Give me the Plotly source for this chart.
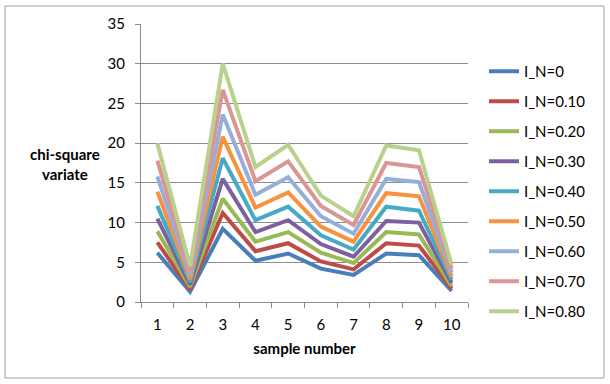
import plotly.graph_objects as go

# sample numbers on the x axis
samples = ["1", "2", "3", "4", "5", "6", "7", "8", "9", "10"]

# chi-square variate per sample, one list per I_N level
in_0 = [6.2, 1.3, 9.2, 5.2, 6.1, 4.2, 3.4, 6.1, 5.9, 1.4]
in_010 = [7.5, 1.6, 11.2, 6.4, 7.4, 5.1, 4.1, 7.4, 7.1, 1.7]
in_020 = [8.9, 1.9, 13.0, 7.6, 8.8, 6.2, 4.9, 8.8, 8.5, 2.0]
in_030 = [10.5, 2.2, 15.5, 8.8, 10.3, 7.3, 5.7, 10.2, 10.0, 2.4]
in_040 = [12.1, 2.5, 18.1, 10.3, 12.0, 8.4, 6.6, 12.0, 11.5, 2.8]
in_050 = [13.9, 2.9, 20.8, 11.9, 13.8, 9.5, 7.6, 13.7, 13.3, 3.2]
in_060 = [15.8, 3.4, 23.6, 13.5, 15.7, 10.8, 8.6, 15.5, 15.1, 3.7]
in_070 = [17.8, 3.9, 26.7, 15.2, 17.7, 12.1, 9.7, 17.5, 17.0, 4.2]
in_080 = [20.0, 4.5, 30.0, 17.0, 19.8, 13.4, 10.8, 19.7, 19.1, 4.7]

series = [
    ("I_N=0", in_0, "#4A7EBB"),
    ("I_N=0.10", in_010, "#BE4B48"),
    ("I_N=0.20", in_020, "#98B954"),
    ("I_N=0.30", in_030, "#7D60A0"),
    ("I_N=0.40", in_040, "#46AAC5"),
    ("I_N=0.50", in_050, "#F69240"),
    ("I_N=0.60", in_060, "#95AEDA"),
    ("I_N=0.70", in_070, "#D99694"),
    ("I_N=0.80", in_080, "#B9D18D"),
]

FONT = "Lato, Carlito, Calibri, sans-serif"
GRID = "#8C8C8C"

fig = go.Figure()
for name, vals, color in series:
    fig.add_trace(
        go.Scatter(
            x=samples,
            y=vals,
            mode="lines",
            name=name,
            legendgroup=name,
            line=dict(color=color, width=4),
        )
    )

# plot area in pixels: x 141..468, y 24..302
L, R, T, B = 141, 468, 24, 302
W, H = 610, 384
pw, ph = R - L, B - T


def px(x):
    return (x - L) / pw


def py(y):
    return (B - y) / ph


fig.update_layout(
    width=W,
    height=H,
    margin=dict(l=L, r=W - R, t=T, b=H - B),
    paper_bgcolor="white",
    plot_bgcolor="white",
    font=dict(family=FONT, size=15, color="#000000"),
    legend=dict(
        x=px(484),
        y=py(55),
        xanchor="left",
        yanchor="top",
        tracegroupgap=7.5,
        font=dict(size=15),
        bgcolor="rgba(0,0,0,0)",
    ),
    showlegend=True,
)

fig.update_xaxes(
    type="category",
    range=[-0.5, 9.5],
    showgrid=False,
    showline=True,
    linecolor=GRID,
    linewidth=1,
    ticks="outside",
    tickson="boundaries",
    ticklen=5,
    tickcolor=GRID,
    ticklabelstandoff=9,
    title=dict(text="<b>sample number</b>", standoff=11, font=dict(size=15)),
)
fig.update_yaxes(
    range=[0, 35],
    dtick=5,
    showgrid=True,
    gridcolor=GRID,
    gridwidth=1,
    zeroline=False,
    showline=True,
    linecolor=GRID,
    linewidth=1,
    ticks="outside",
    ticklen=5,
    tickcolor=GRID,
    ticklabelstandoff=7,
)

fig.add_annotation(
    x=px(65),
    y=py(164),
    xref="paper",
    yref="paper",
    xanchor="center",
    yanchor="middle",
    text="<b>chi-square<br>variate</b>",
    showarrow=False,
    font=dict(size=15),
    align="center",
)

# outer chart border
fig.add_shape(
    type="rect",
    xref="paper",
    yref="paper",
    x0=px(5),
    x1=px(604),
    y0=py(378),
    y1=py(6),
    line=dict(color="#A0A0A0", width=1),
    layer="below",
)

# page body has a default 8px margin; drop it so the chart sits at the window corner
fig.write_html(
    "out.html",
    config={"displayModeBar": False},
    post_script="document.body.style.margin='0';",
)
